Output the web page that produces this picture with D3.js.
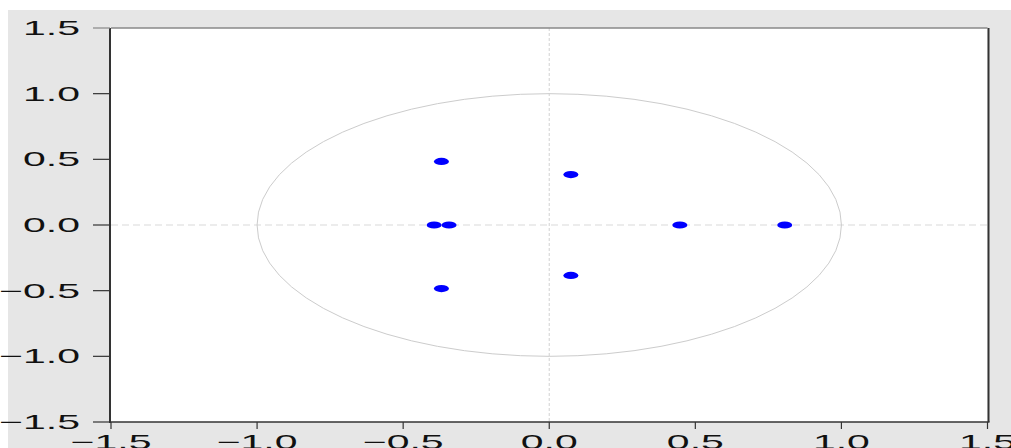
<!DOCTYPE html>
<html>
<head>
<meta charset="utf-8">
<script src="https://cdn.jsdelivr.net/npm/d3@7"></script>
<style>
  html, body { margin: 0; padding: 0; background: #ffffff; }
  svg { display: block; }
  text { font-family: "Liberation Sans", Arial, sans-serif; fill: #111; }
</style>
</head>
<body>
<svg id="chart" width="1011" height="448"></svg>
<script>
// Inverse roots of the AR characteristic polynomial
const rootRe = [-0.369, -0.369, -0.394, -0.343, 0.074, 0.074, 0.447, 0.806];
const rootIm = [0.484, -0.484, 0.0, 0.0, 0.384, -0.384, 0.0, 0.0];
const tickValues = [-1.5, -1.0, -0.5, 0.0, 0.5, 1.0, 1.5];
const tickLabels = ["\u22121.5", "\u22121.0", "\u22120.5", "0.0", "0.5", "1.0", "1.5"];

const svg = d3.select("#chart");
const W = 1011, H = 448;
const plotL = 111, plotR = 987.5, plotT = 28, plotB = 422;
const stretch = 2.05;

const x = d3.scaleLinear().domain([-1.5, 1.5]).range([plotL, plotR]);
const y = d3.scaleLinear().domain([-1.5, 1.5]).range([plotB, plotT]);

// panel background
svg.append("rect").attr("x", 8).attr("y", 10).attr("width", W - 8).attr("height", H - 10)
  .attr("fill", "#e6e6e6");
svg.append("rect").attr("x", plotL).attr("y", plotT)
  .attr("width", plotR - plotL).attr("height", plotB - plotT).attr("fill", "#ffffff");

// zero reference lines
svg.append("line").attr("x1", plotL).attr("x2", plotR).attr("y1", y(0)).attr("y2", y(0))
  .attr("stroke", "#d9d9d9").attr("stroke-width", 1.2).attr("stroke-dasharray", "7,4");
svg.append("line").attr("x1", x(0)).attr("x2", x(0)).attr("y1", plotT).attr("y2", plotB)
  .attr("stroke", "#d9d9d9").attr("stroke-width", 1.2).attr("stroke-dasharray", "3,2");

// unit circle
svg.append("ellipse").attr("cx", x(0)).attr("cy", y(0))
  .attr("rx", x(1) - x(0)).attr("ry", y(0) - y(1))
  .attr("fill", "none").attr("stroke", "#cccccc").attr("stroke-width", 1);

// roots
const roots = rootRe.map((re, i) => ({ re, im: rootIm[i] }));
svg.append("g").selectAll("ellipse").data(roots).join("ellipse")
  .attr("cx", d => x(d.re)).attr("cy", d => y(d.im))
  .attr("rx", 7.5).attr("ry", 3.6).attr("fill", "#0000ff");

// frame
svg.append("line").attr("x1", plotL).attr("x2", plotR).attr("y1", plotT).attr("y2", plotT)
  .attr("stroke", "#888").attr("stroke-width", 1.5);
svg.append("line").attr("x1", plotR + 1).attr("x2", plotR + 1).attr("y1", plotT).attr("y2", plotB)
  .attr("stroke", "#333").attr("stroke-width", 2);
svg.append("line").attr("x1", plotL - 1).attr("x2", plotL - 1).attr("y1", plotT).attr("y2", plotB + 1)
  .attr("stroke", "#333").attr("stroke-width", 2);
svg.append("line").attr("x1", plotL - 1).attr("x2", plotR + 2).attr("y1", plotB).attr("y2", plotB)
  .attr("stroke", "#333").attr("stroke-width", 1.5);

// y axis ticks and labels
const yt = svg.append("g");
tickValues.forEach((v, i) => {
  yt.append("line").attr("x1", 93).attr("x2", plotL - 1).attr("y1", y(v)).attr("y2", y(v))
    .attr("stroke", i === tickValues.length - 1 ? "#888" : "#333").attr("stroke-width", 1.2);
  yt.append("text")
    .attr("transform", `translate(80,${y(v) + 7}) scale(${stretch},1)`)
    .attr("text-anchor", "end").attr("font-size", 20)
    .text(tickLabels[i]);
});

// x axis ticks and labels
const xt = svg.append("g");
tickValues.forEach((v, i) => {
  xt.append("line").attr("x1", x(v)).attr("x2", x(v)).attr("y1", plotB).attr("y2", plotB + 7)
    .attr("stroke", "#333").attr("stroke-width", 1.2);
  xt.append("text")
    .attr("transform", `translate(${x(v)},${plotB + 27}) scale(${stretch},1)`)
    .attr("text-anchor", "middle").attr("font-size", 20)
    .text(tickLabels[i]);
});
</script>
</body>
</html>
